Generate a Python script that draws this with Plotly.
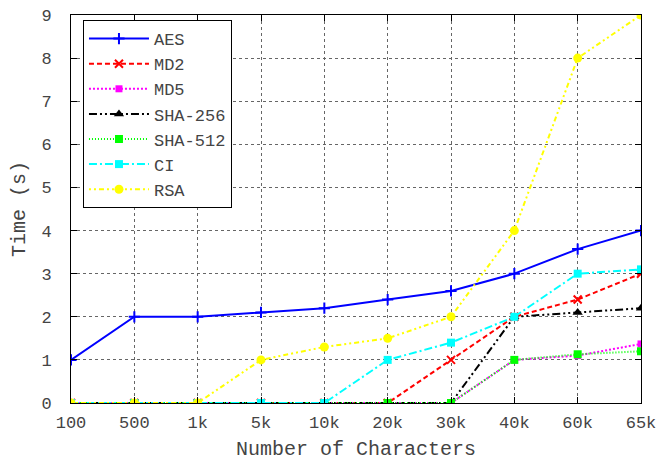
import plotly.graph_objects as go

categories = ["100", "500", "1k", "5k", "10k", "20k", "30k", "40k", "60k", "65k"]
aes = [1, 2, 2, 2.1, 2.2, 2.4, 2.6, 3, 3.57, 4]
md2 = [0, 0, 0, 0, 0, 0, 1, 2, 2.4, 3]
md5 = [0, 0, 0, 0, 0, 0, 0, 1, 1.1, 1.37]
sha256 = [0, 0, 0, 0, 0, 0, 0, 2, 2.1, 2.2]
sha512 = [0, 0, 0, 0, 0, 0, 0, 1, 1.13, 1.2]
ci = [0, 0, 0, 0, 0, 1, 1.4, 2, 3, 3.1]
rsa = [0, 0, 0, 1, 1.3, 1.5, 2, 4, 8, 9]

series = [
    ("AES", aes, "#0000ff", "solid", "cross-thin", 8),
    ("MD2", md2, "#ff0000", "5px 3px", "x-thin", 8),
    ("MD5", md5, "#ff00ff", "2px 2px", "square", 7),
    ("SHA-256", sha256, "#000000", "8px 3px 2px 3px 2px 3px", "triangle-up", 9),
    ("SHA-512", sha512, "#00ff00", "1px 2px", "square", 8),
    ("CI", ci, "#00ffff", "8px 3px 2px 3px", "square", 8),
    ("RSA", rsa, "#ffff00", "2px 3px 2px 3px 5px 3px", "circle", 9),
]

font = "Liberation Mono, Courier New, monospace"
fig = go.Figure()
for name, vals, color, dash, sym, size in series:
    mk = dict(symbol=sym, size=size, color=color)
    if sym.endswith("-thin"):
        mk["line"] = dict(color=color, width=2)
    fig.add_trace(go.Scatter(
        x=categories, y=vals, name=name, mode="lines+markers",
        line=dict(color=color, width=2, dash=dash),
        marker=mk,
    ))

axis_common = dict(
    showline=True, linecolor="black", linewidth=1, mirror="ticks",
    ticks="inside", ticklen=6, tickcolor="black", automargin=False,
    showgrid=True, gridcolor="#666", griddash="dot", gridwidth=1,
    zeroline=False, tickfont=dict(family=font, size=17, color="#444"),
    ticklabeloverflow="allow",
)

fig.update_layout(
    width=658, height=461,
    margin=dict(l=71, r=17, t=15, b=58),
    plot_bgcolor="white", paper_bgcolor="white",
    font=dict(family=font, size=17, color="#444"),
    xaxis=dict(axis_common, type="category", range=[0, 9], ticklabelstandoff=4,
               title=dict(text="Number of Characters", font=dict(family=font, size=20, color="#444"), standoff=13)),
    yaxis=dict(axis_common, range=[0, 9], dtick=1, ticklabelstandoff=15,
               title=dict(text="Time (s)", font=dict(family=font, size=20, color="#444"), standoff=10)),
    legend=dict(x=0.021, y=0.987, xanchor="left", yanchor="top",
                bordercolor="black", borderwidth=1, bgcolor="white",
                font=dict(family=font, size=17, color="#444"),
                tracegroupgap=0, itemwidth=60),
)

# remove the default page margin so the figure fills the window exactly
fig.write_html("out.html", config={"displayModeBar": False},
               post_script="document.body.style.margin='0';")
